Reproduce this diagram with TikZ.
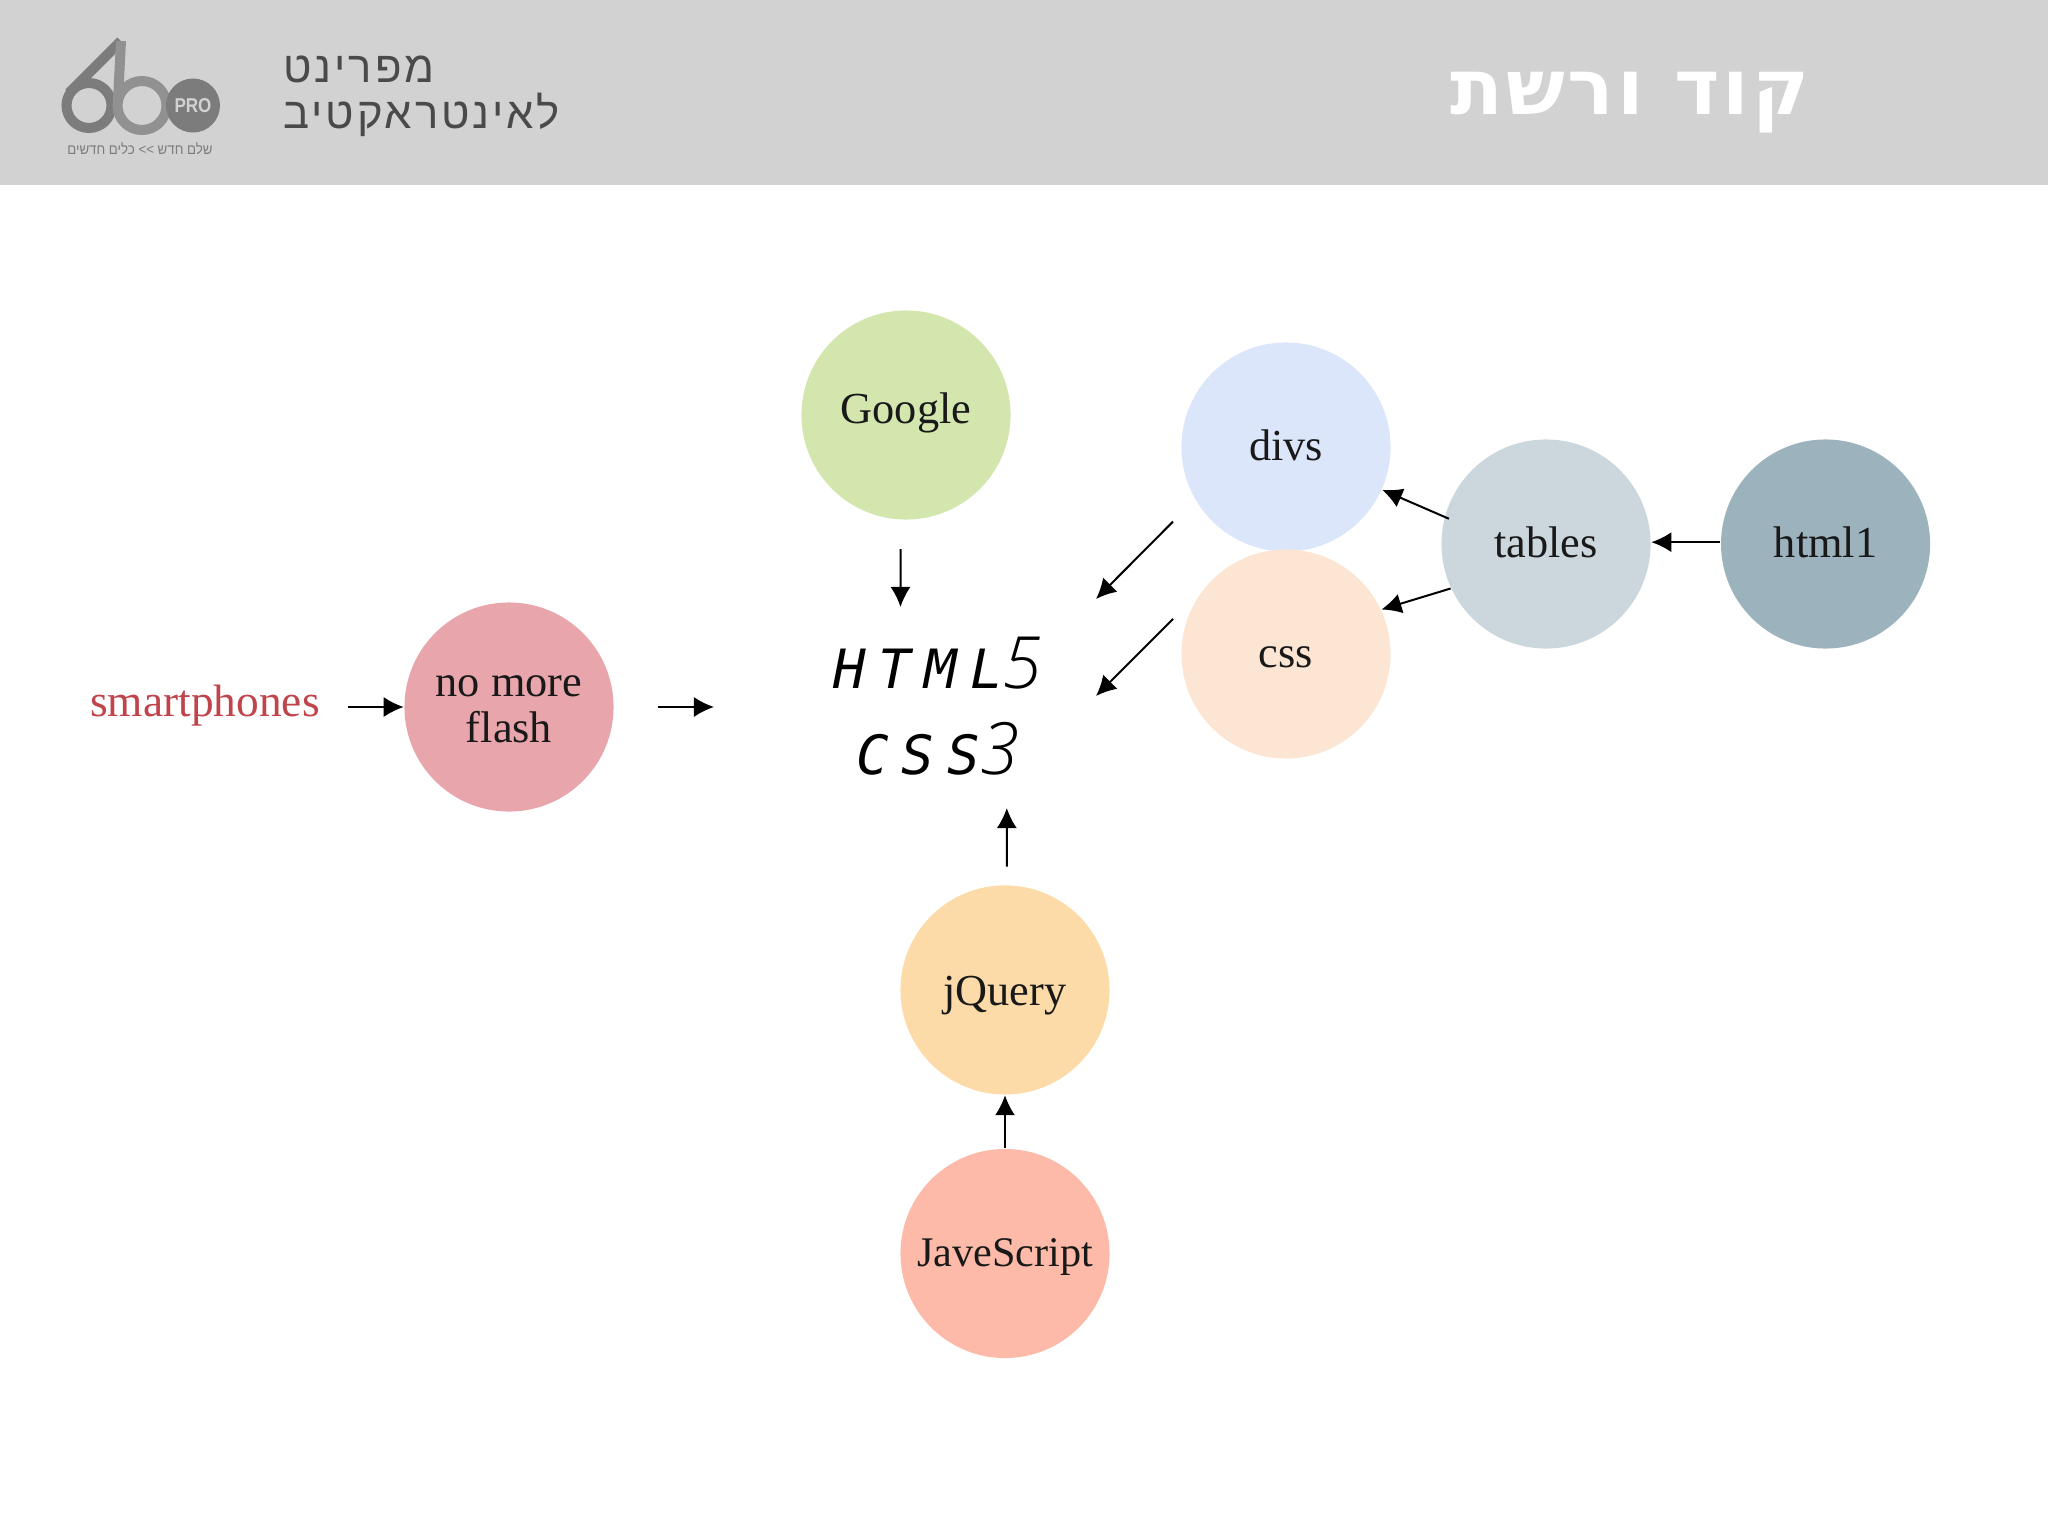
\documentclass[tikz,border=0pt]{standalone}
\usepackage{fontspec}
\usetikzlibrary{shapes, arrows.meta, positioning}
\TeXXeTstate=1
\newfontfamily\hebfont[Script=Hebrew]{Liberation Sans}
\newfontfamily\subfont[Script=Hebrew, LetterSpace=6.5]{Liberation Sans}
\newfontfamily\titlefont[Script=Hebrew, LetterSpace=4]{DejaVu Sans Bold}
\newfontfamily\logofont{Liberation Sans}
\newfontfamily\bubblefont{Liberation Serif}
\newfontfamily\corefont[LetterSpace=24]{DejaVu Sans Mono}
\newfontfamily\digitfont{Open Sans Light}
\newcommand{\coredigit}[1]{{\digitfont\itshape\fontsize{20.5}{24.5}\selectfont #1}}
\definecolor{bandgray}{HTML}{D2D2D2}
\definecolor{subgray}{HTML}{4A4A4A}
\definecolor{logodark}{HTML}{7C7C7C}
\definecolor{logolight}{HTML}{919191}
\definecolor{smartred}{HTML}{C0444C}
\definecolor{googlefill}{HTML}{D3E6AE}
\definecolor{divsfill}{HTML}{DCE6FB}
\definecolor{cssfill}{HTML}{FCE6D3}
\definecolor{tablesfill}{HTML}{CBD7DD}
\definecolor{htmlfill}{HTML}{9CB2BD}
\definecolor{flashfill}{HTML}{E8A6AC}
\definecolor{jqueryfill}{HTML}{FDDBA8}
\definecolor{jsfill}{HTML}{FDBAA8}
\tikzset{
  bubble/.style={circle, minimum size=2.09cm, inner sep=0pt, align=center, text=black!90,
    font=\bubblefont\fontsize{12.6}{13}\selectfont},
  oneline/.style={text height=9.5pt, text depth=2.1pt},
  link/.style={line width=0.02cm, -{Latex[length=0.2cm, width=0.2cm]}},
}

\begin{document}
\begin{tikzpicture}[x=0.01cm, y=-0.01cm]
        \useasboundingbox (0,0) rectangle (2048,1536);
        % Draw the header
        \fill [bandgray] (0,0) rectangle (2048,185);
        \node (sub1) [anchor=base west, inner sep=0pt, text=subgray, font=\subfont\fontsize{12.4}{14}\selectfont] at (283,82) {\beginR מפרינט\endR};
        \node (sub2) [anchor=base west, inner sep=0pt, text=subgray, font=\subfont\fontsize{12.4}{14}\selectfont] at (283,128) {\beginR לאינטראקטיב\endR};
        \node (title) [anchor=base east, inner sep=0pt, text=white, font=\titlefont\fontsize{22}{26}\selectfont] at (1810,114) {\beginR קוד ורשת\endR};

        % Draw the logo
        \draw [logodark, line width=0.1cm] (89,105.5) circle (22.5);
        \draw [logodark, line width=0.1cm] (69,93) -- (121,41);
        \draw [logolight, line width=0.1cm] (142,105.5) circle (24.5);
        \draw [logolight, line width=0.1cm] (121,41) -- (118,100);
        \fill [logodark] (193,105.5) circle (27);
        \node (pro) [inner sep=0pt, text=bandgray, xscale=0.85, font=\logofont\bfseries\fontsize{5.7}{7}\selectfont] at (193,106) {PRO};
        \node (slogan) [inner sep=0pt, text=logodark, xscale=0.92, font=\hebfont\fontsize{4.1}{5}\selectfont] at (140,149) {\beginR שלם חדש >> כלים חדשים\endR};

        % Draw the circles
        \node (google)  [bubble, oneline, text depth=4.9pt, fill=googlefill] at (906,415) {Google};
        \node (divs)    [bubble, oneline, fill=divsfill] at (1286,447) {divs};
        \node (css)     [bubble, oneline, fill=cssfill] at (1286,654) {css};
        \node (tables)  [bubble, oneline, fill=tablesfill] at (1546,544) {tables};
        \node (html)    [bubble, oneline, fill=htmlfill, right=0.69cm of tables] {html1};
        \node (flash)   [bubble, fill=flashfill] at (509,707) {\rule{0pt}{7.3pt}no more\\flash};
        \node (js)      [bubble, oneline, fill=jsfill, font=\bubblefont\fontsize{12}{13}\selectfont] at (1005,1253.5) {JaveScript};
        \node (jquery)  [bubble, oneline, text height=10.9pt, fill=jqueryfill, above=0.53cm of js] {jQuery};
        \node (smart)   [text=smartred, inner sep=0pt, font=\bubblefont\fontsize{12.9}{15}\selectfont] at (205,705.6) {smartphones};
        \node (core)    [inner sep=0pt, align=center, font=\corefont\itshape\fontsize{15.4}{24.5}\selectfont] at (938,706) {HTML\coredigit{5}\\CSS\coredigit{3}};

        % Free ends around the centre
        \coordinate (ingoogle) at (900.5,607);
        \coordinate (inflash) at (714,707);
        \coordinate (indivs) at (1096,599);
        \coordinate (incss) at (1096,696);
        \coordinate (injquery) at (1006.8,808);

        % Draw the connecting lines
        \draw [link, shorten <=0.28cm] (smart.east |- flash) -- (flash.west);
        \draw [link, shorten <=0.29cm] (google.-93) -- (ingoogle);
        \draw [link, shorten <=0.44cm] (flash.east) -- (inflash);
        \draw [link, shorten <=0.31cm] (divs.210) -- (indivs);
        \draw [link, shorten <=0.44cm] (css.141) -- (incss);
        \draw [link, shorten <=0.18cm] (jquery.89) -- (injquery);
        \draw [link] (js.north) -- (jquery.south);
        \draw [link, shorten <=-0.05cm] (tables.165) -- (divs.-24);
        \draw [link] (tables.205) -- (css.25);
        \draw [link] (html.179) -- (tables.1);
    \end{tikzpicture}
\end{document}
